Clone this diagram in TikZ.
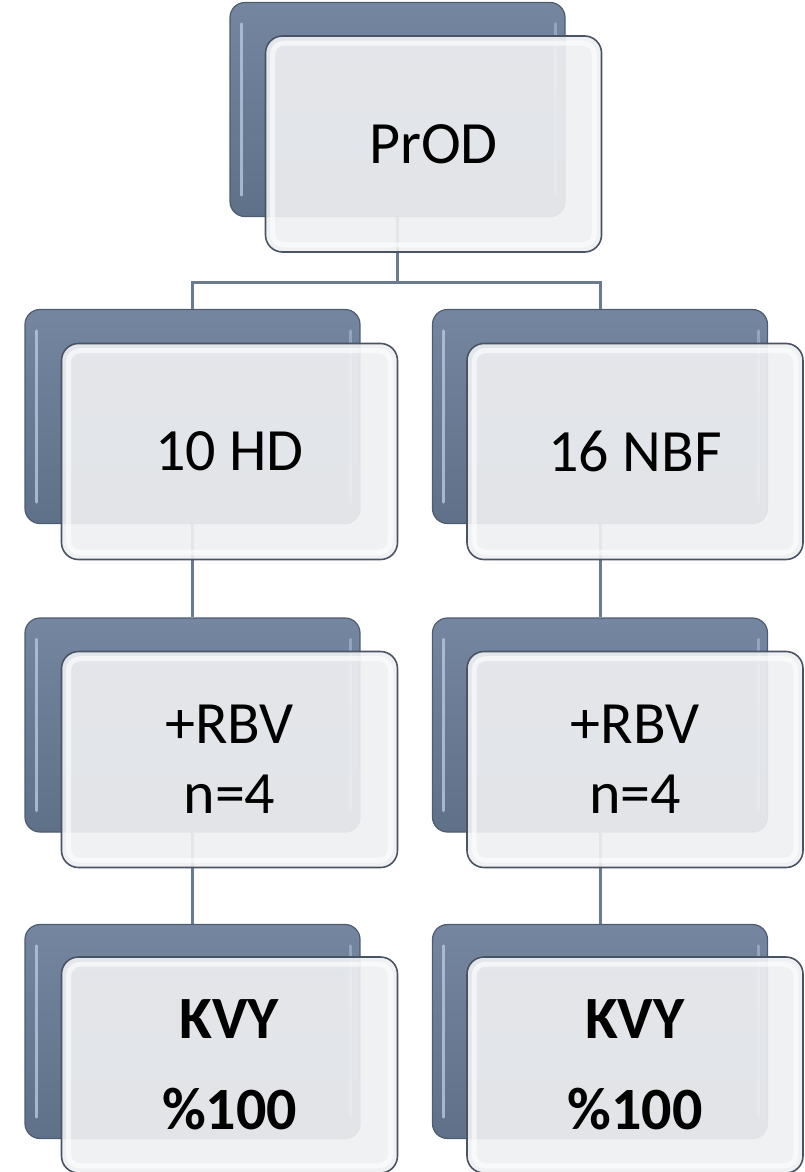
\documentclass[tikz,border=0pt]{standalone}
\usepackage{fontspec}
\setmainfont{Carlito}
\definecolor{slate}{HTML}{5F7188}
\definecolor{slatetop}{HTML}{7486A0}
\definecolor{slateedge}{HTML}{4E5C70}
\definecolor{frontedge}{HTML}{4A5363}
\definecolor{frontfill}{HTML}{EFF0F2}
\definecolor{wire}{HTML}{6A7B91}
\definecolor{glint}{HTML}{B6C8E0}
\begin{document}
\begin{tikzpicture}[x=1pt,y=-1pt,
  darkbox/.style={rounded corners=15pt, draw=slateedge, line width=1.2pt,
    top color=slatetop, bottom color=slate,
    minimum width=335pt, minimum height=214pt, inner sep=0pt},
  glintline/.style={draw=glint, line width=3pt, line cap=round, opacity=0.8},
  frontbox/.style={rounded corners=17pt, draw=frontedge, line width=1.6pt,
    fill=frontfill, fill opacity=0.91, text opacity=1,
    minimum width=336pt, minimum height=216pt, inner sep=0pt,
    align=center, font=\fontsize{60}{70}\selectfont},
  rim/.style={draw=white, line width=5pt, opacity=0.6, rounded corners=11pt},
  wireline/.style={draw=wire, line width=3pt}]
\useasboundingbox (0,0) rectangle (805,1172);

% back plates with their edge glints
\foreach \n/\x/\y in {0/397.5/109.5, 1/192.5/416.5, 2/600/416.5,
                      3/192.5/725, 4/600/725, 5/192.5/1031.5, 6/600/1031.5} {
  \node[darkbox] (d\n) at (\x,\y) {};
  \draw[glintline] ([xshift=12pt,yshift=-22pt]d\n.north west) -- ([xshift=12pt,yshift=22pt]d\n.south west);
  \draw[glintline, opacity=0.5] ([xshift=-10pt,yshift=-22pt]d\n.north east) -- ([xshift=-10pt,yshift=22pt]d\n.south east);
}

% connectors
\coordinate (bus) at (397.5,282);
\draw[wireline] (d0.south) -- (bus);
\draw[wireline] (d1.north) -- (d1.north |- bus) -- (d2.north |- bus) -- (d2.north);
\draw[wireline] (d1.south) -- (d3.north);
\draw[wireline] (d2.south) -- (d4.north);
\draw[wireline] (d3.south) -- (d5.north);
\draw[wireline] (d4.south) -- (d6.north);

% front cards
\node[frontbox] (f0) at (433.5,144) {\raisebox{-6pt}{PrOD}};
\node[frontbox] (f1) at (229.5,451.5) {10 HD};
\node[frontbox] (f2) at (635,451.5) {16 NBF};
\node[frontbox] (f3) at (229.5,759.5) {+RBV\\n=4};
\node[frontbox] (f4) at (635,759.5) {+RBV\\n=4};
\node[frontbox] (f5) at (229.5,1065) {\textbf{KVY}\\[21pt]\textbf{\%100}};
\node[frontbox] (f6) at (635,1065) {\textbf{KVY}\\[21pt]\textbf{\%100}};

\foreach \n in {0,...,6} {
  \draw[rim] ([shift={(8pt,-8pt)}]f\n.north west) rectangle ([shift={(-8pt,8pt)}]f\n.south east);
}
\end{tikzpicture}
\end{document}
